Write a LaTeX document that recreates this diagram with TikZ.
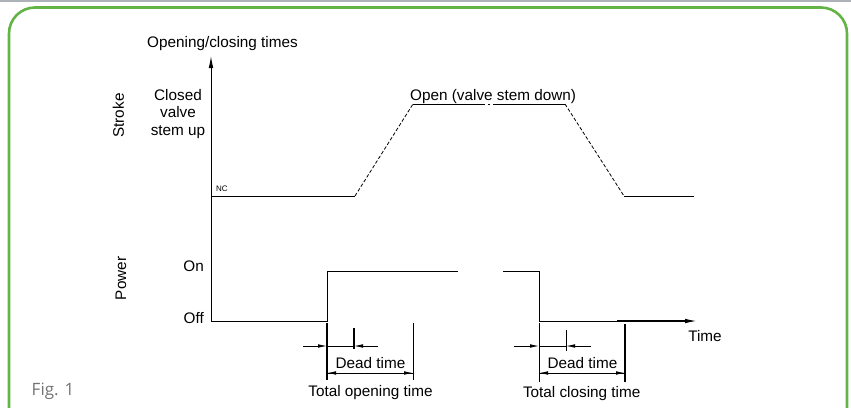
\documentclass[tikz,border=0pt]{standalone}
\usepackage{fontspec}
\setmainfont{Liberation Sans}
\newfontfamily\figfont{Open Sans}
\usetikzlibrary{positioning, arrows.meta}

\definecolor{framegreen}{RGB}{98,180,70}
\definecolor{topgray}{RGB}{172,178,184}
\definecolor{figgray}{RGB}{115,115,115}

\tikzset{
	lbl/.style={inner sep=0pt, font=\fontsize{15.3}{17.5}\selectfont},
	trace/.style={line width=0.9pt},
	ramp/.style={line width=0.8pt, dash pattern=on 3.5pt off 2pt},
	dimline/.style={line width=0.8pt},
	boldline/.style={line width=1.3pt},
	dimtip/.style={-{Latex[length=9pt,width=3.6pt]}},
	axistip/.style={-{Latex[length=12pt,width=4.6pt]}},
}

\begin{document}
\begin{tikzpicture}[x=1pt, y=-1pt]
		\useasboundingbox (0,0) rectangle (851,407);
		\path[draw, topgray, line width=2pt] (0,1) -- (851,1);
		\path[draw, framegreen, line width=2.6pt, rounded corners=26pt] (9,440) -- (9,7.5) -- (847,7.5) -- (847,440);

		\coordinate (origin) at (211,321);
		\coordinate (ytop) at (211,56);
		\path[draw, trace, axistip] (origin) -- (ytop);
		\node (ylabel) [lbl, anchor=base] at (222.5,47.3) {Opening/closing times};

		\node (stroke) [lbl, rotate=90] at (118.5,115.5) {Stroke};
		\node (closed) [lbl, align=center] at (178,114) {Closed\\valve\\stem up};
		\node (nc) [inner sep=0pt, anchor=base west, font=\fontsize{8}{9}\selectfont] at (216,191) {NC};
		\node (open) [lbl, anchor=base west] at (410,100) {Open (valve stem down)};

		\node (power) [lbl, rotate=90] at (121,278.5) {Power};
		\node (on) [lbl, anchor=base east] at (204,271) {On};
		\node (off) [lbl, anchor=base east] at (204,323) {Off};
		\node (time) [lbl, anchor=base] at (705,341.7) {Time};

		% stroke trace
		\coordinate (s0) at (211,196);
		\coordinate (s1) at (355,196);
		\coordinate (s2) at (413,104);
		\coordinate (s3) at (485,104);
		\coordinate (s4) at (488,104);
		\coordinate (s5) at (490,104);
		\coordinate (s6) at (493,104);
		\coordinate (s7) at (565,104);
		\coordinate (s8) at (624,196);
		\coordinate (s9) at (694,196);
		\path[draw, trace] (s0) -- (s1);
		\path[draw, ramp] (s1) -- (s2);
		\path[draw, trace] (s2) -- (s3);
		\path[draw, trace] (s4) -- (s5);
		\path[draw, trace] (s6) -- (s7);
		\path[draw, ramp] (s7) -- (s8);
		\path[draw, trace] (s8) -- (s9);

		% power trace
		\coordinate (p1) at (327,321);
		\coordinate (p2) at (327,271);
		\coordinate (p3) at (458,271);
		\coordinate (p4) at (503,271);
		\coordinate (p5) at (539,271);
		\coordinate (p6) at (539,321);
		\coordinate (p7) at (617,321);
		\coordinate (tend) at (697,321);
		\path[draw, trace] (origin) -- (p1) -- (p2) -- (p3);
		\path[draw, trace] (p4) -- (p5) -- (p6) -- (p7);
		\path[draw, boldline, axistip] (p7) -- (tend);

		% opening times
		\coordinate (oa) at (327,323);
		\coordinate (ob) at (327,380);
		\coordinate (oc) at (413,323);
		\coordinate (od) at (413,380);
		\coordinate (oe) at (354,328);
		\coordinate (of) at (354,349);
		\coordinate (og) at (303,346);
		\coordinate (oh) at (327,346);
		\coordinate (oi) at (354,346);
		\coordinate (oj) at (378,346);
		\coordinate (ok) at (327,373);
		\coordinate (ol) at (413,373);
		\path[draw, boldline] (oa) -- (ob);
		\path[draw, dimline] (oc) -- (od);
		\path[draw, boldline] (oe) -- (of);
		\path[draw, dimline, dimtip] (og) -- (oh);
		\path[draw, dimline] (oh) -- (oi);
		\path[draw, dimline, dimtip] (oj) -- (oi);
		\path[draw, dimline, dimtip] (ok) -- (ol);
		\path[draw, dimline, dimtip] (ol) -- (ok);
		\node (odead) [lbl, anchor=base] at (370.5,368) {Dead time};
		\node (ototal) [lbl, anchor=base] at (370.5,396.7) {Total opening time};

		% closing times
		\coordinate (ca) at (539,323);
		\coordinate (cb) at (539,382);
		\coordinate (cc) at (625,324);
		\coordinate (cd) at (625,382);
		\coordinate (ce) at (566,330);
		\coordinate (cf) at (566,351);
		\coordinate (cg) at (514,346);
		\coordinate (ch) at (539,346);
		\coordinate (ci) at (566,346);
		\coordinate (cj) at (591,346);
		\coordinate (ck) at (539,373);
		\coordinate (cl) at (625,373);
		\path[draw, dimline] (ca) -- (cb);
		\path[draw, boldline] (cc) -- (cd);
		\path[draw, dimline] (ce) -- (cf);
		\path[draw, dimline, dimtip] (cg) -- (ch);
		\path[draw, dimline] (ch) -- (ci);
		\path[draw, dimline, dimtip] (cj) -- (ci);
		\path[draw, dimline, dimtip] (ck) -- (cl);
		\path[draw, dimline, dimtip] (cl) -- (ck);
		\node (cdead) [lbl, anchor=base] at (582.5,368) {Dead time};
		\node (ctotal) [lbl, anchor=base] at (581.7,397) {Total closing time};

		\node (fig) [inner sep=0pt, anchor=base, text=figgray, font=\figfont\fontsize{17}{20}\selectfont] at (53,395) {Fig. 1};
	\end{tikzpicture}
\end{document}
